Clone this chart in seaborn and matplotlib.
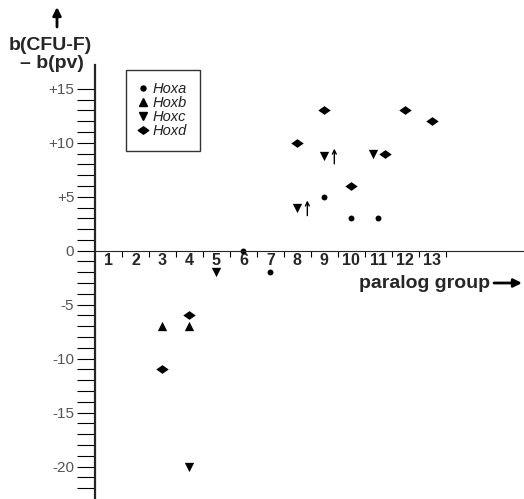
import numpy as np
import pandas as pd
import seaborn as sns
import matplotlib.pyplot as plt
from matplotlib.path import Path
from matplotlib.lines import Line2D

sns.set_style("white")
plt.rcParams['font.family'] = ['Liberation Sans', 'DejaVu Sans']

# values: paralog group vs b(CFU-F) - b(pv)
hoxa_group = [6, 7, 9, 10, 11]
hoxa_value = [0, -2, 5, 3, 3]
hoxb_group = [3, 4]
hoxb_value = [-7, -7]
hoxc_group = [4, 5, 8, 9, 10.8]
hoxc_value = [-20, -2, 4, 8.8, 9]
hoxd_group = [3, 4, 8, 9, 10, 11.25, 12, 13]
hoxd_value = [-11, -6, 10, 13, 6, 9, 13, 12]
# Hoxc points flagged with an up arrow (lower bound)
arrow_group = [8, 9]
arrow_value = [4, 8.8]

genes = ['Hoxa', 'Hoxb', 'Hoxc', 'Hoxd']
df = pd.concat([
    pd.DataFrame({'group': hoxa_group, 'value': hoxa_value, 'gene': 'Hoxa'}),
    pd.DataFrame({'group': hoxb_group, 'value': hoxb_value, 'gene': 'Hoxb'}),
    pd.DataFrame({'group': hoxc_group, 'value': hoxc_value, 'gene': 'Hoxc'}),
    pd.DataFrame({'group': hoxd_group, 'value': hoxd_value, 'gene': 'Hoxd'}),
])

# wide flat diamond like the original
wide_diamond = Path([(-1, 0), (0, 0.7), (1, 0), (0, -0.7), (-1, 0)],
                    [Path.MOVETO, Path.LINETO, Path.LINETO, Path.LINETO, Path.CLOSEPOLY])
markers = {'Hoxa': 'o', 'Hoxb': '^', 'Hoxc': 'v', 'Hoxd': wide_diamond}
sizes = {'Hoxa': 18, 'Hoxb': 45, 'Hoxc': 45, 'Hoxd': 80}

fig = plt.figure(figsize=(5.24, 4.99), dpi=100)
ax = fig.add_axes([95 / 524, 0, 429 / 524, 434 / 499])

for g in genes:
    sub = df[df.gene == g]
    sns.scatterplot(data=sub, x='group', y='value', marker=markers[g], s=sizes[g],
                    color='black', edgecolor='black', linewidth=0, ax=ax, legend=False)

for gx, gy in zip(arrow_group, arrow_value):
    ax.annotate('', xy=(gx + 0.37, gy + 0.65), xytext=(gx + 0.37, gy - 0.75),
                arrowprops=dict(arrowstyle='->', color='black', lw=1.0,
                                shrinkA=0, shrinkB=0, mutation_scale=7))

ax.set_xlim(0.5, 16.4)
ax.set_ylim(-23, 17.2)

for s in ['top', 'right']:
    ax.spines[s].set_visible(False)
ax.spines['left'].set_position(('data', 0.5))
ax.spines['left'].set_linewidth(1.6)
ax.spines['bottom'].set_position(('data', 0))
ax.spines['bottom'].set_linewidth(0.8)

# y ticks
yt = [-20, -15, -10, -5, 0, 5, 10, 15]
ylab = ['-20', '-15', '-10', '-5', '0', '+5', '+10', '+15']
ax.set_yticks(yt)
ax.set_yticklabels(ylab, fontsize=11, color='#555555')
ax.set_yticks(np.arange(-22, 16), minor=True)
ax.tick_params(axis='y', which='both', direction='out', length=13, width=0.8,
               color='black', pad=2, left=True)

# x ticks: separators between groups, labels at group centres
groups = np.arange(1, 14)
ax.set_xticks(groups + 0.5)
ax.set_xticklabels([])
ax.tick_params(axis='x', which='major', direction='out', length=4, width=0.8,
               color='black', bottom=True)
ax.set_xticks(groups, minor=True)
ax.set_xticklabels([str(g) for g in groups], minor=True, fontsize=11.5,
                   fontweight='bold')
ax.tick_params(axis='x', which='minor', length=0, pad=2)
ax.set_xlabel('')
ax.set_ylabel('')

# axis titles with arrows
fig.text(50 / 524, 1 - 46 / 499, 'b(CFU-F)', fontsize=14, fontweight='bold',
         ha='center', va='center')
fig.text(52 / 524, 1 - 63 / 499, '\u2013 b(pv)', fontsize=14, fontweight='bold',
         ha='center', va='center')
fig.text(490 / 524, 1 - 283 / 499, 'paralog group', fontsize=14, fontweight='bold',
         ha='right', va='center')
ax.annotate('', xy=(57 / 524, 1 - 7 / 499), xytext=(57 / 524, 1 - 27 / 499),
            xycoords='figure fraction', textcoords='figure fraction',
            arrowprops=dict(arrowstyle='-|>', color='black', lw=2,
                            shrinkA=0, shrinkB=0, mutation_scale=12))
ax.annotate('', xy=(522 / 524, 1 - 283 / 499), xytext=(494 / 524, 1 - 283 / 499),
            xycoords='figure fraction', textcoords='figure fraction',
            arrowprops=dict(arrowstyle='-|>', color='black', lw=2,
                            shrinkA=0, shrinkB=0, mutation_scale=12))

# legend
handles = [Line2D([], [], linestyle='none', marker=markers[g], color='black',
                  markersize=np.sqrt(sizes[g]) * 0.85) for g in genes]
leg = ax.legend(handles, genes, loc='upper left',
                bbox_to_anchor=(126 / 524, 1 - 70 / 499), bbox_transform=fig.transFigure,
                frameon=True, fancybox=False, handlelength=0.6, handletextpad=0.4,
                labelspacing=0.0, borderpad=0.85, borderaxespad=0,
                prop={'style': 'italic', 'size': 10.5})
leg.get_frame().set_edgecolor('black')
leg.get_frame().set_linewidth(1.0)
for t in leg.get_texts():
    t.set_color('#222222')

fig.savefig('out.png', dpi=100)
